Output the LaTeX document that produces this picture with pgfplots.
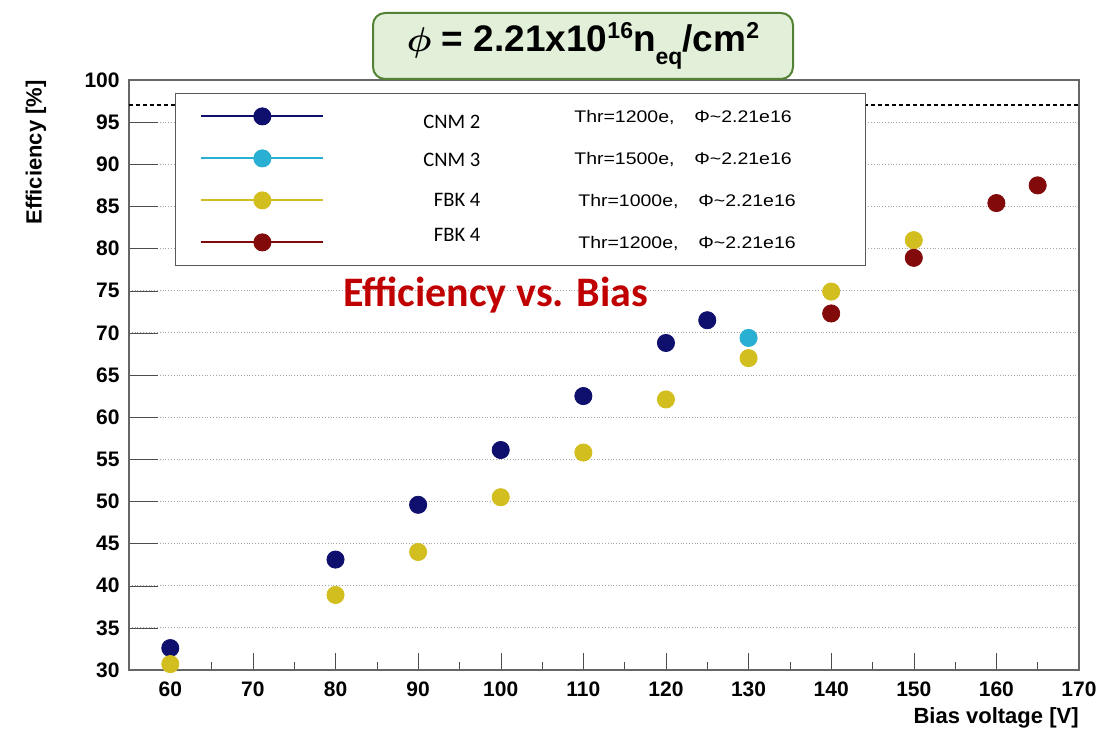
\documentclass[border=0pt]{standalone}
\usepackage{amsmath}
\usepackage{pgfplots}
\pgfplotsset{compat=1.18}
\usepackage{fontspec}
\setmainfont{Liberation Sans}
\newfontfamily\carlito{Carlito}
\newfontfamily\legfont[FakeStretch=1.16]{Liberation Sans}

\definecolor{cnmtwo}{RGB}{15,15,110}
\definecolor{cnmthree}{RGB}{40,175,210}
\definecolor{fbkone}{RGB}{210,190,30}
\definecolor{fbktwo}{RGB}{130,10,10}
\definecolor{boxfill}{RGB}{226,240,217}
\definecolor{boxdraw}{RGB}{84,130,53}
\definecolor{titlered}{RGB}{192,0,0}

% legend helpers
\newcommand\legname[1]{\makebox[78pt][r]{\carlito\fontsize{10.3}{12}\selectfont #1}}
\newcommand\legentry[3]{\makebox[258pt][l]{#1\hspace{#3}\makebox[60pt][l]{#2}Φ\textasciitilde 2.21e16}}

\pgfplotsset{
  legline/.style={legend image code/.code={
    \draw[##1,sharp plot,mark=none,line width=1pt] (0pt,0pt) -- (61pt,0pt);
    \draw[##1] plot coordinates {(30.5pt,0pt)};
  }},
}

\begin{document}
\begin{tikzpicture}
\path[use as bounding box] (-64.5pt,-31pt) rectangle (485pt,335pt);
\begin{axis}[
    scale only axis,
    width=475pt, height=295pt,
    xmin=55, xmax=170,
    ymin=30, ymax=100,
    xtick={60,70,...,170},
    minor xtick={65,75,...,165},
    ytick={30,35,...,100},
    tick pos=left,
    tick align=inside,
    xtick style={black!70, /pgfplots/major tick length=8.5pt, /pgfplots/minor tick length=4.2pt},
    ytick style={black!70, /pgfplots/major tick length=14.5pt},
    axis line style={black!60, line width=0.6pt},
    ymajorgrids=true,
    major grid style={densely dotted, black!35},
    clip=false,
    /pgf/number format/assume math mode=true,
    ticklabel style={font=\bfseries\fontsize{10.5}{12}\selectfont},
    xticklabel style={inner sep=0pt, yshift=-5.5pt},
    yticklabel style={inner sep=0pt, xshift=-4.5pt},
    xlabel={Bias voltage [V]},
    ylabel={Efficiency [\%]},
    label style={font=\bfseries\fontsize{11}{13}\selectfont, inner sep=0pt},
    xlabel style={at={(axis description cs:1,-0.0814)}, anchor=east},
    ylabel style={at={(axis description cs:-0.098,1)}, anchor=east},
    legend cell align=left,
    legend style={at={(rel axis cs:0.0484,0.978)}, anchor=north west,
      draw=black!65, fill=white, inner xsep=12.5pt, inner ysep=1pt,
      row sep=0pt, column sep=0pt,
      nodes={inner sep=0pt, text height=13.6pt, text depth=7.4pt},
      font=\legfont\fontsize{8.4}{10}\selectfont},
]

\addplot[forget plot, black, line width=1pt, dash pattern=on 2pt off 1.5pt]
  coordinates {(55,97) (170,97)};

\addplot[only marks, mark=*, mark size=4.3pt, color=cnmtwo, legline]
  coordinates {(60,32.6) (80,43.1) (90,49.6) (100,56.1) (110,62.5) (120,68.8) (125,71.5)};
\addlegendentry{\legentry{\legname{\raisebox{-3pt}{CNM 2}}}{Thr=1200e,}{47pt}}

\addplot[only marks, mark=*, mark size=4.3pt, color=cnmthree, legline]
  coordinates {(130,69.4)};
\addlegendentry{\legentry{\legname{\raisebox{-1pt}{CNM 3}}}{Thr=1500e,}{47pt}}

\addplot[only marks, mark=*, mark size=4.3pt, color=fbkone, legline]
  coordinates {(60,30.7) (80,38.9) (90,44.0) (100,50.5) (110,55.8) (120,62.1) (130,67.0) (140,74.9) (150,81.0)};
\addlegendentry{\legentry{\legname{FBK 4}}{Thr=1000e,}{49pt}}

\addplot[only marks, mark=*, mark size=4.3pt, color=fbktwo, legline]
  coordinates {(140,72.3) (150,78.9) (160,85.4) (165,87.5)};
\addlegendentry{\legentry{\legname{\raisebox{3.5pt}{FBK 4}}}{Thr=1200e,}{49pt}}

\node[text=titlered, font=\carlito\bfseries\fontsize{21}{24}\selectfont]
  at (axis cs:99.37,74.5) {Efficiency vs. Bias};
\end{axis}

\node[draw=boxdraw, line width=1pt, fill=boxfill, rounded corners=6pt,
      minimum width=210pt, minimum height=33pt, inner sep=0pt,
      font=\bfseries\fontsize{18.5}{20}\selectfont]
  at (227pt,312pt)
  {$\boldsymbol{\phi}$ = 2.21x10\raisebox{6.5pt}{\fontsize{11.5}{12}\selectfont 16}n\raisebox{-6.5pt}{\fontsize{11.5}{12}\selectfont eq}/cm\raisebox{6.5pt}{\fontsize{11.5}{12}\selectfont 2}};
\end{tikzpicture}
\end{document}
